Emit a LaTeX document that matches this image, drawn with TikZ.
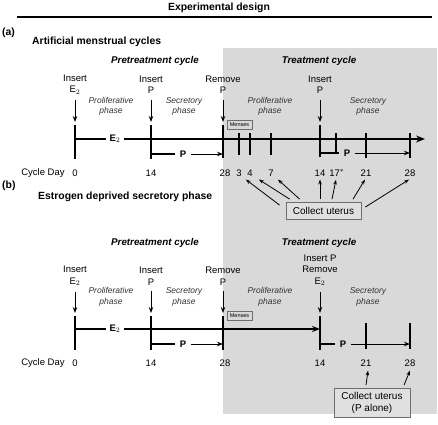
\documentclass[tikz,border=0pt]{standalone}
\usepackage{fontspec}
\setmainfont{Liberation Sans}
\usetikzlibrary{arrows.meta,calc}
\definecolor{bggray}{HTML}{D9D9D9}
\definecolor{boxline}{HTML}{6E6E6E}
\begin{document}
\begin{tikzpicture}[x=1pt,y=-1pt,
  txt/.style={inner sep=0pt,align=center,font=\fontsize{9.5}{11.5}\selectfont},
  hd/.style={inner sep=0pt,font=\fontsize{10.4}{12}\selectfont\bfseries},
  cyc/.style={inner sep=0pt,font=\fontsize{9.8}{11}\selectfont\bfseries\itshape},
  phase/.style={inner sep=0pt,align=center,font=\fontsize{8.5}{10.5}\selectfont\itshape,text=black!80},
  axl/.style={inner sep=0pt,font=\fontsize{9.5}{11}\selectfont},
  hlab/.style={inner sep=3pt,font=\fontsize{9.5}{11}\selectfont\bfseries},
  menses/.style={draw=boxline,line width=0.6pt,inner sep=0pt,minimum width=25pt,minimum height=9pt,font=\fontsize{5.5}{6}\selectfont},
  cubox/.style={draw=boxline,fill=black!12,line width=0.8pt,inner sep=0pt,align=center,font=\fontsize{10}{12}\selectfont},
  axis/.style={line width=1.5pt},
  tick/.style={line width=1.5pt},
  arr/.style={line width=1pt,-{Stealth[length=6pt,width=4.5pt]}},
  thin arr/.style={line width=0.8pt,-{Stealth[length=5pt,width=3.5pt]}},
]
\useasboundingbox (0,0) rectangle (438,424);
% shaded treatment area
\fill[bggray] (223,48) rectangle (437,414);
% title
\node[hd] (title) at (219,8) {Experimental design};
\draw[line width=1.2pt] (17,17) -- (432,17);

%% ===================== (a) =====================
\node[hd,anchor=west] (pa) at (2,33) {(a)};
\node[hd,anchor=west] (ta) at (32,42) {Artificial menstrual cycles};
\node[cyc] (preA) at (155,61) {Pretreatment cycle};
\node[cyc] (trA) at (319,61) {Treatment cycle};

\node[txt] (a1) at (75,84.5) {Insert\\E$_2$};
\node[txt] (a2) at (151,84.5) {Insert\\P};
\node[txt] (a3) at (223,84.5) {Remove\\P};
\node[txt] (a4) at (320,84.5) {Insert\\P};

\node[phase] (ph1) at (111,106.5) {Proliferative\\phase};
\node[phase] (ph2) at (184,106.5) {Secretory\\phase};
\node[phase] (ph3) at (270,106.5) {Proliferative\\phase};
\node[phase] (ph4) at (368,106.5) {Secretory\\phase};

\coordinate (a0t) at (75,125);  \coordinate (a0b) at (75,159);
\coordinate (a14t) at (151,125); \coordinate (a14b) at (151,159);
\coordinate (a28t) at (223,125); \coordinate (a28b) at (223,158);
\coordinate (t14t) at (320,125); \coordinate (t14b) at (320,157);
\coordinate (aend) at (425,139);

\draw[arr,shorten >=3pt,shorten <=6pt] (a1.south) -- (a0t);
\draw[arr,shorten >=3pt,shorten <=6pt] (a2.south) -- (a14t);
\draw[arr,shorten >=3pt,shorten <=6pt] (a3.south) -- (a28t);
\draw[arr,shorten >=3pt,shorten <=6pt] (a4.south) -- (t14t);

\draw[tick] (a0t) -- (a0b);
\draw[tick] (a14t) -- (a14b);
\draw[tick] (a28t) -- (a28b);
\draw[tick] (t14t) -- (t14b);
\foreach \x/\b in {239/155,250/155,271/155,336/154,366/158,410/158}
  \draw[tick] (\x,133) -- (\x,\b);

\node[hlab,fill=white] (e2a) at (115,139) {E$_2$};
\draw[axis] (75,139) -- (e2a.west);
\draw[axis,-{Stealth[length=9pt,width=7pt]}] (e2a.east) -- (aend);

\node[hlab,inner sep=5pt] (pA1) at (183,154) {P};
\draw[line width=1.2pt] (151,154) -- (pA1.west);
\draw[arr] (pA1.east) -- (a28b |- pA1.east);
\node[hlab,inner sep=5pt] (pA2) at (347,153) {P};
\draw[line width=1.2pt] (320,153) -- (pA2.west);
\draw[arr] (pA2.east) -- (410,153);

\node[menses] (mA) at (239.5,125) {Menses};

\node[axl] (cdA) at (43,173) {Cycle Day};
\node[axl] (lA0) at (75,173) {0};
\node[axl] (lA14) at (151,173) {14};
\node[axl] (lA28) at (225,173) {28};
\node[axl] (lA3) at (239,173) {3};
\node[axl] (lA4) at (250,173) {4};
\node[axl] (lA7) at (271,173) {7};
\node[axl] (lB14) at (320,173) {14};
\node[axl] (lB17) at (337,173) {17$^{\ast}$};
\node[axl] (lB21) at (366,173) {21};
\node[axl] (lB28) at (410,173) {28};

\node[cubox,minimum width=75pt,minimum height=17pt] (cuA) at (323.5,211) {Collect uterus};
\draw[thin arr] ([shift={(-6,3)}]cuA.north west) -- ([shift={(4,3)}]lA3.south east);
\draw[thin arr] ([shift={(4,-3)}]cuA.north west) -- ([shift={(6,3)}]lA4.south east);
\draw[thin arr] ([shift={(14,-3)}]cuA.north west) -- ([shift={(4,3)}]lA7.south east);
\draw[thin arr] ([shift={(-3.5,-3)}]cuA.north) -- ([shift={(0,3)}]lB14.south);
\draw[thin arr] ([shift={(8.5,-3)}]cuA.north) -- ([shift={(-1,3)}]lB17.south);
\draw[thin arr] ([shift={(29.5,-3)}]cuA.north) -- ([shift={(-1,3)}]lB21.south);
\draw[thin arr] ([shift={(4,-4)}]cuA.east) -- ([shift={(-1,3)}]lB28.south);

%% ===================== (b) =====================
\node[hd,anchor=west] (pb) at (2,186) {(b)};
\node[hd,anchor=west] (tb) at (38,197) {Estrogen deprived secretory phase};
\node[cyc] (preB) at (155,243) {Pretreatment cycle};
\node[cyc] (trB) at (319,243) {Treatment cycle};

\node[txt] (b1) at (75,276) {Insert\\E$_2$};
\node[txt] (b2) at (151,276) {Insert\\P};
\node[txt] (b3) at (223,276) {Remove\\P};
\node[txt] (b4) at (320,270) {Insert P\\Remove\\E$_2$};

\node[phase] (qh1) at (111,297) {Proliferative\\phase};
\node[phase] (qh2) at (184,297) {Secretory\\phase};
\node[phase] (qh3) at (270,297) {Proliferative\\phase};
\node[phase] (qh4) at (368,297) {Secretory\\phase};

\coordinate (b0t) at (75,316);  \coordinate (b0b) at (75,350);
\coordinate (b14t) at (151,316); \coordinate (b14b) at (151,350);
\coordinate (b28t) at (223,316); \coordinate (b28b) at (223,350);
\coordinate (u14t) at (320,316); \coordinate (u14b) at (320,350);

\draw[arr,shorten >=3pt,shorten <=6pt] (b1.south) -- (b0t);
\draw[arr,shorten >=3pt,shorten <=6pt] (b2.south) -- (b14t);
\draw[arr,shorten >=3pt,shorten <=6pt] (b3.south) -- (b28t);
\draw[arr,shorten >=3pt,shorten <=6pt] (b4.south) -- (u14t);

\draw[tick] (b0t) -- (b0b);
\draw[tick] (b14t) -- (b14b);
\draw[tick] (b28t) -- (b28b);
\draw[tick] (u14t) -- (u14b);
\foreach \x in {366,410}
  \draw[tick] (\x,323) -- (\x,349);

\node[hlab,fill=white] (e2b) at (115,329) {E$_2$};
\draw[axis] (75,329) -- (e2b.west);
\draw[line width=1.5pt,-{Stealth[length=8pt,width=6pt]}] (e2b.east) -- (u14t |- e2b.east);

\node[hlab,inner sep=5pt] (pB1) at (183,344) {P};
\draw[line width=1.2pt] (151,344) -- (pB1.west);
\draw[arr] (pB1.east) -- (b28b |- pB1.east);
\node[hlab,inner sep=5pt] (pB2) at (343,344) {P};
\draw[line width=1.2pt] (320,344) -- (pB2.west);
\draw[arr] (pB2.east) -- (410,344);

\node[menses] (mB) at (239.5,315.5) {Menses};

\node[axl] (cdB) at (43,363) {Cycle Day};
\node[axl] (mB0) at (75,363) {0};
\node[axl] (mB14) at (151,363) {14};
\node[axl] (mB28) at (225,363) {28};
\node[axl] (nB14) at (320,363) {14};
\node[axl] (nB21) at (366,363) {21};
\node[axl] (nB28) at (410,363) {28};

\node[cubox,minimum width=76pt,minimum height=29pt] (cuB) at (372,403) {Collect uterus\\(P alone)};
\draw[thin arr] ([shift={(-6,-3)}]cuB.north) -- ([shift={(2,4)}]nB21.south);
\draw[thin arr] ([shift={(32,-3)}]cuB.north) -- ([shift={(0,4)}]nB28.south);
\end{tikzpicture}
\end{document}
